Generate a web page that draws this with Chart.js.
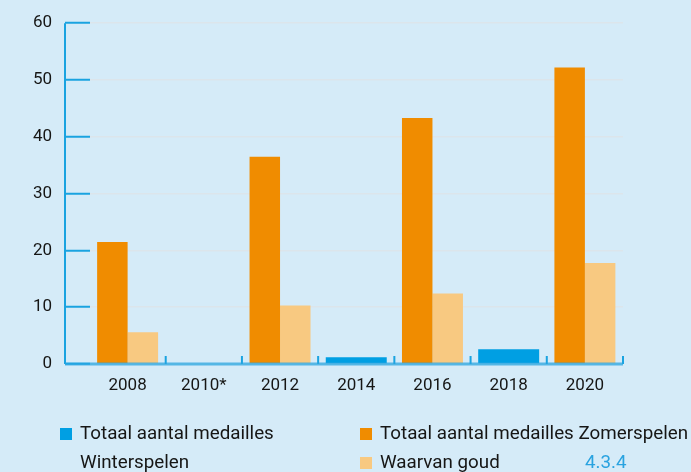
<!DOCTYPE html>
<html>
<head>
<meta charset="utf-8">
<script src="https://cdn.jsdelivr.net/npm/chart.js@4"></script>
<style>
  html, body { margin: 0; padding: 0; }
  body { width: 691px; height: 472px; background: #d5ebf8; position: relative; overflow: hidden;
         font-family: Roboto, "DejaVu Sans", sans-serif; color: #161615; }
  #chart-wrap { position: absolute; left: 0; top: 0; width: 691px; height: 472px; }
  .legend-item { position: absolute; font-size: 18.8px; line-height: 29px; white-space: normal; }
  .legend-item .box { position: absolute; left: -20px; top: 9px; width: 12px; height: 12px; }
  #code { position: absolute; left: 585px; top: 448px; font-size: 18.8px; line-height: 29px; color: #29a3e0; }
</style>
</head>
<body>
<div id="chart-wrap"><canvas id="chart" width="691" height="472"></canvas></div>
<div id="legend"></div>
<div id="code">4.3.4</div>
<script>
const years = ["2008", "2010*", "2012", "2014", "2016", "2018", "2020"];
const winterTotal = [null, 0, null, 1.2, null, 2.6, null];
const summerTotal = [21.5, null, 36.5, null, 43.3, null, 52.2];
const summerGold = [5.6, null, 10.3, null, 12.4, null, 17.8];
const yTicks = [0, 10, 20, 30, 40, 50, 60];

const seriesNames = [
  "Totaal aantal medailles Winterspelen",
  "Totaal aantal medailles Zomerspelen",
  "Waarvan goud"
];
const seriesColors = ["#009fe3", "#f08c00", "#f8c981"];

const axisBlue = "#1aa3e0";

// blue axis lines + small upward ticks between the years
const axisMarks = {
  id: "axisMarks",
  afterDatasetsDraw(chart) {
    const { ctx, scales: { x, y } } = chart;
    const tl = chart.options.scales.y.grid.tickLength;
    const left = chart.chartArea.left - tl;
    const zero = y.getPixelForValue(0);
    const top = y.getPixelForValue(60);
    ctx.save();
    ctx.strokeStyle = axisBlue;
    ctx.lineWidth = 2;
    ctx.beginPath();
    ctx.moveTo(left, top);
    ctx.lineTo(left, zero);
    ctx.stroke();

    const step = x.getPixelForValue(1) - x.getPixelForValue(0);
    ctx.beginPath();
    for (let i = 0; i < years.length; i++) {
      const px = x.getPixelForValue(i) + step / 2;
      ctx.moveTo(px, zero - 8);
      ctx.lineTo(px, zero);
    }
    ctx.stroke();

    ctx.strokeStyle = "rgba(40,165,225,0.75)";
    ctx.lineWidth = 3;
    ctx.beginPath();
    ctx.moveTo(left, zero);
    ctx.lineTo(chart.chartArea.right, zero);
    ctx.stroke();
    ctx.restore();
  }
};

const ctx = document.getElementById("chart").getContext("2d");
new Chart(ctx, {
  type: "bar",
  data: {
    labels: years,
    datasets: [winterTotal, summerTotal, summerGold].map((d, i) => ({
      label: seriesNames[i],
      data: d,
      backgroundColor: seriesColors[i],
      borderWidth: 0,
      barPercentage: 1,
      categoryPercentage: 0.8,
      skipNull: true
    }))
  },
  options: {
    responsive: false,
    animation: false,
    layout: { padding: { top: 17, right: 68, bottom: 72, left: 0 } },
    plugins: { legend: { display: false }, tooltip: { enabled: false } },
    scales: {
      x: {
        grid: { display: false, drawTicks: false },
        border: { display: false },
        ticks: { color: "#161615", font: { family: "Roboto", size: 17 }, padding: 12, maxRotation: 0 },
        afterFit(scale) { scale.height = 36; }
      },
      y: {
        min: 0,
        max: 60,
        afterBuildTicks(scale) { scale.ticks = yTicks.map(v => ({ value: v })); },
        grid: { color: "#dce5eb", lineWidth: 1.5, tickColor: axisBlue, tickLength: 24.5, tickWidth: 2 },
        border: { display: false },
        ticks: { color: "#161615", font: { family: "Roboto", size: 17 }, padding: 13 },
        afterFit(scale) { scale.width = 89.5; }
      }
    }
  },
  plugins: [axisMarks]
});

// legend below the plot
const legendPos = [
  { left: 80, top: 419 },
  { left: 380, top: 419 },
  { left: 380, top: 448 }
];
const legend = document.getElementById("legend");
seriesNames.forEach((name, i) => {
  const item = document.createElement("div");
  item.className = "legend-item";
  item.style.left = legendPos[i].left + "px";
  item.style.top = legendPos[i].top + "px";
  item.style.width = i === 0 ? "240px" : "320px";
  item.innerHTML = `<span class="box" style="background:${seriesColors[i]}"></span>${name}`;
  legend.appendChild(item);
});
</script>
</body>
</html>
